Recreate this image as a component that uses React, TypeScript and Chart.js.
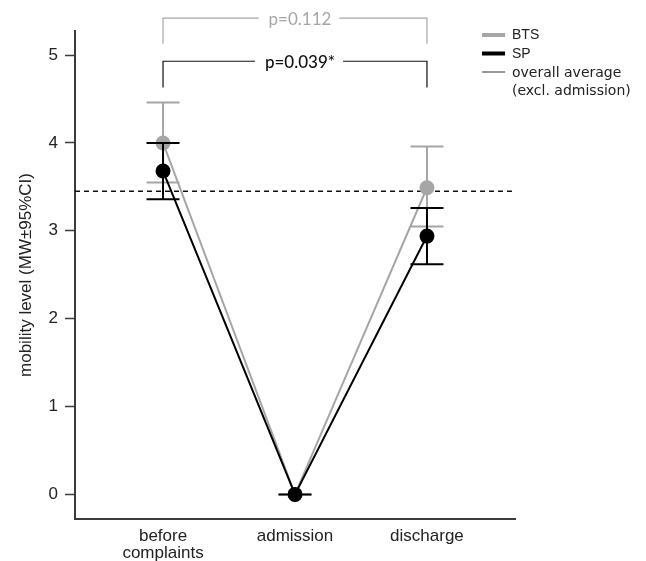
import React, { useEffect, useRef } from "react";
import { Chart, registerables } from "chart.js";

Chart.register(...registerables);

// ---------- data ----------
const categories: (string | string[])[] = [["before", "complaints"], "admission", "discharge"];
const btsMean = [4.0, 0, 3.49];
const btsLower = [3.55, 0, 3.05];
const btsUpper = [4.46, 0, 3.96];
const spMean = [3.68, 0, 2.94];
const spLower = [3.36, 0, 2.62];
const spUpper = [4.0, 0, 3.26];
const overallAverage = 3.45;
const yTickValues = [0, 1, 2, 3, 4, 5];
const bracketLabels = ["p=0.112", "p=0.039*"];
const bracketFrom = [0, 0];
const bracketTo = [2, 2];
const bracketTop = [5.42, 4.93];
const bracketFoot = [5.13, 4.63];
const legendLabels = ["BTS", "SP", "overall average", "(excl. admission)"];

// ---------- styles ----------
const GRAY = "#a6a6a6";
const BLACK = "#000000";
const AXIS = "#3a3a3a";
const TEXT = "#222222";
const SANS = "'Liberation Sans', Arial, sans-serif";

const series = [
  { mean: btsMean, lower: btsLower, upper: btsUpper, color: GRAY },
  { mean: spMean, lower: spLower, upper: spUpper, color: BLACK },
];

const overlayPlugin = {
  id: "overlay",
  beforeDatasetsDraw(chart: any) {
    const { ctx, chartArea } = chart;
    const ys = chart.scales.y;
    const y = ys.getPixelForValue(overallAverage);
    ctx.save();
    ctx.strokeStyle = "#111";
    ctx.lineWidth = 1.5;
    ctx.setLineDash([5, 4]);
    ctx.beginPath();
    ctx.moveTo(chartArea.left, y);
    ctx.lineTo(chartArea.right, y);
    ctx.stroke();
    ctx.restore();
  },
  beforeDatasetDraw(chart: any, args: any) {
    const s = series[args.index];
    if (!s) return;
    const { ctx } = chart;
    const xs = chart.scales.x;
    const ys = chart.scales.y;
    ctx.save();
    ctx.strokeStyle = s.color;
    ctx.lineWidth = 2;
    const half = 16.5;
    for (let i = 0; i < s.mean.length; i++) {
      const px = xs.getPixelForValue(i);
      const yl = ys.getPixelForValue(s.lower[i]);
      const yu = ys.getPixelForValue(s.upper[i]);
      ctx.beginPath();
      ctx.moveTo(px, yl);
      ctx.lineTo(px, yu);
      ctx.moveTo(px - half, yl);
      ctx.lineTo(px + half, yl);
      ctx.moveTo(px - half, yu);
      ctx.lineTo(px + half, yu);
      ctx.stroke();
    }
    ctx.restore();
  },
  afterDraw(chart: any) {
    const { ctx } = chart;
    const xs = chart.scales.x;
    const ys = chart.scales.y;
    // brackets
    const bracketColors = [GRAY, "#111"];
    ctx.save();
    for (let b = 0; b < bracketLabels.length; b++) {
      const x1 = xs.getPixelForValue(bracketFrom[b]);
      const x2 = xs.getPixelForValue(bracketTo[b]);
      const yTop = ys.getPixelForValue(bracketTop[b]);
      const yFoot = ys.getPixelForValue(bracketFoot[b]);
      const cx = (x1 + x2) / 2 + 5;
      ctx.font = (b === 1 ? "500 " : "") + "17px Lato, 'Open Sans', sans-serif";
      const w = ctx.measureText(bracketLabels[b]).width;
      ctx.strokeStyle = bracketColors[b];
      ctx.lineWidth = 1.2;
      ctx.beginPath();
      ctx.moveTo(x1, yFoot);
      ctx.lineTo(x1, yTop);
      ctx.lineTo(cx - w / 2 - 10, yTop);
      ctx.moveTo(cx + w / 2 + 8, yTop);
      ctx.lineTo(x2, yTop);
      ctx.lineTo(x2, yFoot);
      ctx.stroke();
      ctx.fillStyle = bracketColors[b];
      ctx.textAlign = "center";
      ctx.textBaseline = "middle";
      ctx.fillText(bracketLabels[b], cx, yTop + 1);
    }
    ctx.restore();

    // legend
    ctx.save();
    const lx1 = chart.chartArea.right - 33;
    const lx2 = lx1 + 23;
    const tx = lx2 + 7;
    const rows = [
      { y: 35, color: GRAY, width: 4 },
      { y: 53.5, color: BLACK, width: 4 },
      { y: 72, color: "#999999", width: 2 },
    ];
    rows.forEach((r) => {
      ctx.strokeStyle = r.color;
      ctx.lineWidth = r.width;
      ctx.beginPath();
      ctx.moveTo(lx1, r.y);
      ctx.lineTo(lx2, r.y);
      ctx.stroke();
    });
    ctx.fillStyle = TEXT;
    ctx.textAlign = "left";
    ctx.textBaseline = "middle";
    ctx.font = "14px " + SANS;
    ctx.fillText(legendLabels[0], tx, 35);
    ctx.fillText(legendLabels[1], tx, 54);
    ctx.font = "14px 'DejaVu Sans', Verdana, sans-serif";
    ctx.fillText(legendLabels[2], tx, 73);
    ctx.fillText(legendLabels[3], tx, 91);
    ctx.restore();
  },
};

export default function App() {
  const canvasRef = useRef<HTMLCanvasElement | null>(null);

  useEffect(() => {
    if (!canvasRef.current) return;
    const chart = new Chart(canvasRef.current, {
      type: "line",
      data: {
        datasets: [
          {
            label: "BTS",
            data: btsMean.map((v, i) => ({ x: i, y: v })),
            borderColor: GRAY,
            backgroundColor: GRAY,
            borderWidth: 2,
            pointRadius: 7.5,
            pointBorderWidth: 0,
            pointBackgroundColor: GRAY,
            tension: 0,
            order: 2,
          },
          {
            label: "SP",
            data: spMean.map((v, i) => ({ x: i, y: v })),
            borderColor: BLACK,
            backgroundColor: BLACK,
            borderWidth: 2,
            pointRadius: 7.5,
            pointBorderWidth: 0,
            pointBackgroundColor: BLACK,
            tension: 0,
            order: 1,
          },
        ],
      },
      options: {
        animation: false,
        responsive: false,
        devicePixelRatio: 1,
        layout: { padding: { left: 0, top: 31, right: 131, bottom: 0 } },
        plugins: {
          legend: { display: false },
          tooltip: { enabled: false },
        },
        scales: {
          x: {
            type: "linear",
            min: -0.667,
            max: 2.667,
            afterBuildTicks: (s: any) => {
              s.ticks = categories.map((_, i) => ({ value: i }));
            },
            afterFit: (s: any) => {
              s.height = 42;
            },
            ticks: {
              autoSkip: false,
              maxRotation: 0,
              padding: 1,
              color: TEXT,
              font: { family: SANS, size: 17, lineHeight: 1.0 },
              callback: (_v: any, i: number) => categories[i] as any,
            },
            grid: { display: false },
            border: { display: true, color: AXIS, width: 2 },
          },
          y: {
            type: "linear",
            min: -0.28,
            max: 5.274,
            afterBuildTicks: (s: any) => {
              s.ticks = yTickValues.map((v) => ({ value: v }));
            },
            afterFit: (s: any) => {
              s.width = 75;
            },
            ticks: {
              padding: 7,
              color: TEXT,
              font: { family: SANS, size: 17 },
              callback: (v: any) => String(v),
            },
            grid: {
              display: true,
              drawOnChartArea: false,
              drawTicks: true,
              tickLength: 10,
              tickColor: AXIS,
              tickWidth: 1.5,
            },
            border: { display: true, color: AXIS, width: 2 },
            title: {
              display: true,
              text: "mobility level (MW±95%CI)",
              color: TEXT,
              font: { family: SANS, size: 17 },
              padding: { top: 16, bottom: 0 },
            },
          },
        },
      } as any,
      plugins: [overlayPlugin],
    });
    return () => chart.destroy();
  }, []);

  return (
    <div style={{ position: "absolute", left: 0, top: 0, width: 646, height: 561, background: "#fff" }}>
      <canvas ref={canvasRef} width={646} height={561} style={{ display: "block" }} />
    </div>
  );
}
